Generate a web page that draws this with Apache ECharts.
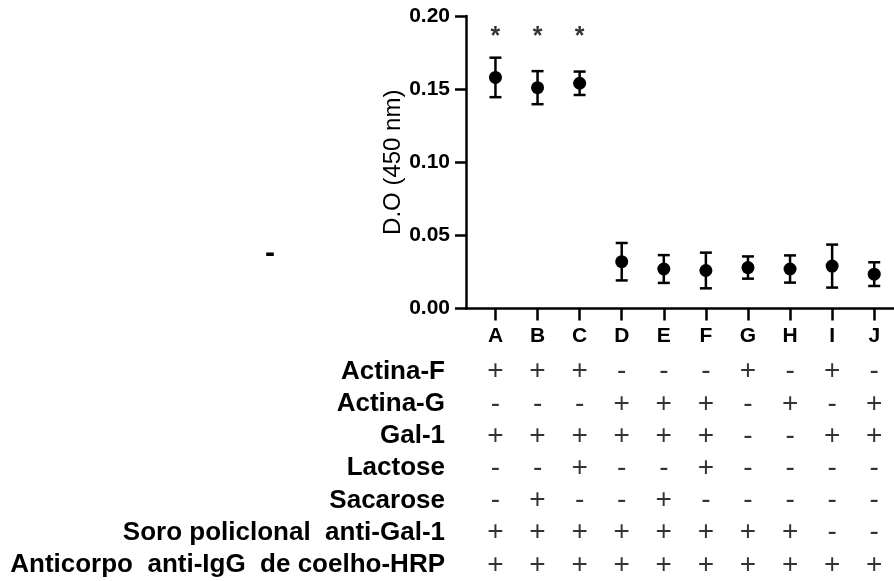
<!DOCTYPE html>
<html>
<head>
<meta charset="utf-8">
<script src="https://cdn.jsdelivr.net/npm/echarts@6/dist/echarts.min.js"></script>
<style>
html,body{margin:0;padding:0;background:#fff;}
#chart{width:894px;height:581px;}
</style>
</head>
<body>
<div id="chart"></div>
<script>
const categories = ['A','B','C','D','E','F','G','H','I','J'];
const means  = [0.158, 0.151, 0.154, 0.032, 0.027, 0.026, 0.028, 0.027, 0.029, 0.0235];
const errors = [0.0135, 0.0113, 0.008, 0.0128, 0.0095, 0.0122, 0.0076, 0.0093, 0.0147, 0.0081];
const stars  = ['*','*','*','','','','','','',''];
const starLevel = 0.19;

const rowLabels = ['Actina-F','Actina-G','Gal-1','Lactose','Sacarose','Soro policlonal  anti-Gal-1','Anticorpo  anti-IgG  de coelho-HRP'];
const actinaF   = ['+','+','+','-','-','-','+','-','+','-'];
const actinaG   = ['-','-','-','+','+','+','-','+','-','+'];
const gal1      = ['+','+','+','+','+','+','-','-','+','+'];
const lactose   = ['-','-','+','-','-','+','-','-','-','-'];
const sacarose  = ['-','+','-','-','+','-','-','-','-','-'];
const soro      = ['+','+','+','+','+','+','+','+','-','-'];
const anticorpo = ['+','+','+','+','+','+','+','+','+','+'];
const tableRows = [actinaF, actinaG, gal1, lactose, sacarose, soro, anticorpo];

const idx = categories.map((c, i) => i);
const FONT = '"Liberation Sans", Arial, sans-serif';

const tableData = [];
tableRows.forEach((row, r) => row.forEach((s, i) => tableData.push([i, r, s])));

const chart = echarts.init(document.getElementById('chart'), null, {renderer: 'canvas'});
chart.setOption({
  animation: false,
  backgroundColor: '#fff',
  textStyle: {fontFamily: FONT, color: '#000'},
  grid: [
    {left: 466, right: 0, top: 16, height: 292.5},
    {left: 466, right: 0, top: 355.5, height: 226.7}
  ],
  xAxis: [
    {
      gridIndex: 0, type: 'value', min: -0.7, max: 9.47,
      splitLine: {show: false},
      axisLine: {onZero: false, lineStyle: {color: '#000', width: 2.5}},
      axisTick: {show: true, customValues: idx, length: 12, lineStyle: {color: '#000', width: 2.5}},
      axisLabel: {customValues: idx, interval: 0, formatter: v => categories[Math.round(v)], fontSize: 21, fontWeight: 'bold', color: '#000', margin: 17, fontFamily: FONT}
    },
    {gridIndex: 1, type: 'value', min: -0.7, max: 9.47, show: false}
  ],
  yAxis: [
    {
      gridIndex: 0, type: 'value', min: 0, max: 0.2, interval: 0.05,
      name: 'D.O (450 nm)', nameLocation: 'middle', nameGap: 58,
      nameTextStyle: {fontSize: 24, color: '#000', fontFamily: FONT},
      splitLine: {show: false},
      axisLine: {show: true, onZero: false, lineStyle: {color: '#000', width: 2.5}},
      axisTick: {show: true, inside: false, length: 11, lineStyle: {color: '#000', width: 2.5}},
      axisLabel: {formatter: v => v.toFixed(2), fontSize: 21, fontWeight: 'bold', color: '#000', margin: 16, fontFamily: FONT}
    },
    {
      gridIndex: 1, type: 'category', data: rowLabels, inverse: true,
      axisLine: {show: false}, axisTick: {show: false}, splitLine: {show: false},
      axisLabel: {interval: 0, fontSize: 26, fontWeight: 'bold', color: '#000', margin: 21, fontFamily: FONT}
    }
  ],
  series: [
    {
      type: 'custom', xAxisIndex: 0, yAxisIndex: 0, z: 2,
      data: means.map((m, i) => [i, m - errors[i], m + errors[i]]),
      renderItem: function (params, api) {
        const lo = api.coord([api.value(0), api.value(1)]);
        const hi = api.coord([api.value(0), api.value(2)]);
        const hw = 6;
        const st = {stroke: '#000', lineWidth: 2.5};
        return {
          type: 'group',
          children: [
            {type: 'line', shape: {x1: lo[0], y1: lo[1], x2: hi[0], y2: hi[1]}, style: st},
            {type: 'line', shape: {x1: lo[0] - hw, y1: lo[1], x2: lo[0] + hw, y2: lo[1]}, style: st},
            {type: 'line', shape: {x1: hi[0] - hw, y1: hi[1], x2: hi[0] + hw, y2: hi[1]}, style: st}
          ]
        };
      }
    },
    {
      type: 'scatter', xAxisIndex: 0, yAxisIndex: 0, z: 3,
      symbol: 'circle', symbolSize: 13,
      itemStyle: {color: '#000', opacity: 1},
      data: means.map((m, i) => [i, m])
    },
    {
      type: 'scatter', xAxisIndex: 0, yAxisIndex: 0, z: 3,
      symbolSize: 1, itemStyle: {color: 'rgba(0,0,0,0)'},
      data: stars.map((s, i) => [i, starLevel, s]),
      label: {show: true, position: 'inside', formatter: p => p.value[2], fontSize: 25, fontWeight: 'bold', color: '#000', offset: [0, 6], fontFamily: FONT}
    },
    {
      type: 'scatter', xAxisIndex: 1, yAxisIndex: 1,
      symbolSize: 1, itemStyle: {color: 'rgba(0,0,0,0)'},
      data: tableData,
      label: {show: true, position: 'inside', formatter: p => p.value[2], fontSize: 28, color: '#000', fontFamily: FONT}
    }
  ],
  graphic: [
    {type: 'text', x: 270, y: 254, style: {text: '-', fontSize: 30, fontWeight: 'bold', fontFamily: FONT, fill: '#000', align: 'center', verticalAlign: 'middle'}}
  ]
});
</script>
</body>
</html>
